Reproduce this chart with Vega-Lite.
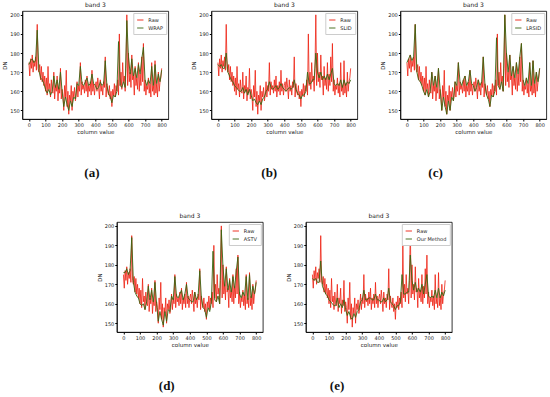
{
"$schema": "https://vega.github.io/schema/vega-lite/v6.json",
"background": "white",
"padding": {"left": 2, "top": 1, "right": 2, "bottom": 2},
"config": {
  "axis": {"labelFontSize": 5, "titleFontSize": 5.5, "titleFontWeight": "normal", "grid": false, "tickSize": 2, "labelPadding": 1, "titlePadding": 2, "domainColor": "#000", "tickColor": "#000", "labelColor": "#222", "titleColor": "#222", "labelFont": "DejaVu Sans", "titleFont": "DejaVu Sans", "domainWidth": 0.8, "labelOverlap": false, "labelFlush": false, "labelSeparation": 0},
  "title": {"fontSize": 6, "fontWeight": "normal", "font": "DejaVu Sans", "offset": 3, "color": "#222"},
  "view": {"stroke": "#000", "strokeWidth": 0.8},
  "legend": {"orient": "top-right", "title": null, "symbolType": "stroke", "symbolSize": 40, "symbolStrokeWidth": 1, "labelFontSize": 5, "labelFont": "DejaVu Sans", "fillColor": "white", "strokeColor": "#ccc", "padding": 3, "rowPadding": 1, "offset": 2, "labelColor": "#222"}
},
"datasets": {
  "raw": [
    {"x":0,"v":175},{"x":5,"v":168},{"x":10,"v":177},{"x":15,"v":172},{"x":20,"v":179},{"x":25,"v":170},{"x":30,"v":176},{"x":35,"v":173},{"x":40,"v":178},{"x":45,"v":171},
    {"x":50,"v":195},{"x":55,"v":172},{"x":60,"v":170},{"x":65,"v":174},{"x":70,"v":166},{"x":75,"v":173},{"x":80,"v":165},{"x":85,"v":170},{"x":90,"v":163},{"x":95,"v":168},
    {"x":100,"v":160},{"x":105,"v":167},{"x":110,"v":158},{"x":115,"v":173},{"x":120,"v":161},{"x":125,"v":164},{"x":130,"v":157},{"x":135,"v":166},{"x":140,"v":160},{"x":145,"v":159},
    {"x":150,"v":170},{"x":155,"v":156},{"x":160,"v":163},{"x":165,"v":160},{"x":170,"v":168},{"x":175,"v":155},{"x":180,"v":162},{"x":185,"v":159},{"x":190,"v":172},{"x":195,"v":156},
    {"x":200,"v":161},{"x":205,"v":158},{"x":210,"v":150},{"x":215,"v":163},{"x":220,"v":157},{"x":225,"v":171},{"x":230,"v":152},{"x":235,"v":160},{"x":240,"v":148},{"x":245,"v":158},
    {"x":250,"v":155},{"x":255,"v":163},{"x":260,"v":150},{"x":265,"v":160},{"x":270,"v":157},{"x":275,"v":162},{"x":280,"v":155},{"x":285,"v":158},{"x":290,"v":165},{"x":295,"v":157},
    {"x":300,"v":163},{"x":305,"v":160},{"x":310,"v":175},{"x":315,"v":158},{"x":320,"v":165},{"x":325,"v":161},{"x":330,"v":163},{"x":335,"v":159},{"x":340,"v":166},{"x":345,"v":160},
    {"x":350,"v":168},{"x":355,"v":157},{"x":360,"v":163},{"x":365,"v":160},{"x":370,"v":165},{"x":375,"v":158},{"x":380,"v":171},{"x":385,"v":160},{"x":390,"v":164},{"x":395,"v":158},
    {"x":400,"v":163},{"x":405,"v":165},{"x":410,"v":160},{"x":415,"v":167},{"x":420,"v":162},{"x":425,"v":156},{"x":430,"v":166},{"x":435,"v":160},{"x":440,"v":163},{"x":445,"v":158},
    {"x":450,"v":165},{"x":455,"v":162},{"x":460,"v":178},{"x":465,"v":157},{"x":470,"v":164},{"x":475,"v":160},{"x":480,"v":158},{"x":485,"v":163},{"x":490,"v":156},{"x":495,"v":160},
    {"x":500,"v":152},{"x":505,"v":161},{"x":510,"v":158},{"x":515,"v":164},{"x":520,"v":157},{"x":525,"v":163},{"x":530,"v":160},{"x":535,"v":166},{"x":540,"v":158},{"x":545,"v":190},
    {"x":550,"v":163},{"x":555,"v":170},{"x":560,"v":161},{"x":565,"v":175},{"x":570,"v":165},{"x":575,"v":168},{"x":580,"v":160},{"x":585,"v":172},{"x":590,"v":200},{"x":595,"v":163},
    {"x":600,"v":180},{"x":605,"v":165},{"x":610,"v":170},{"x":615,"v":162},{"x":620,"v":179},{"x":625,"v":166},{"x":630,"v":168},{"x":635,"v":158},{"x":640,"v":173},{"x":645,"v":163},
    {"x":650,"v":167},{"x":655,"v":161},{"x":660,"v":175},{"x":665,"v":160},{"x":670,"v":169},{"x":675,"v":163},{"x":680,"v":178},{"x":685,"v":165},{"x":690,"v":185},{"x":695,"v":160},
    {"x":700,"v":166},{"x":705,"v":158},{"x":710,"v":163},{"x":715,"v":161},{"x":720,"v":167},{"x":725,"v":159},{"x":730,"v":164},{"x":735,"v":157},{"x":740,"v":175},{"x":745,"v":160},
    {"x":750,"v":163},{"x":755,"v":158},{"x":760,"v":176},{"x":765,"v":159},{"x":770,"v":164},{"x":775,"v":157},{"x":780,"v":170},{"x":785,"v":160},{"x":790,"v":165},{"x":795,"v":167},
    {"x":800,"v":172}
  ],
  "meth": [
    {"m":"WRAP","x":0,"v":174},{"m":"WRAP","x":10,"v":176},{"m":"WRAP","x":20,"v":177},{"m":"WRAP","x":30,"v":175},{"m":"WRAP","x":40,"v":176},{"m":"WRAP","x":50,"v":192},{"m":"WRAP","x":60,"v":171},{"m":"WRAP","x":70,"v":167},{"m":"WRAP","x":80,"v":166},{"m":"WRAP","x":90,"v":164},
    {"m":"WRAP","x":100,"v":161},{"m":"WRAP","x":110,"v":159},{"m":"WRAP","x":120,"v":161},{"m":"WRAP","x":130,"v":158},{"m":"WRAP","x":140,"v":160},{"m":"WRAP","x":150,"v":168},{"m":"WRAP","x":160,"v":162},{"m":"WRAP","x":170,"v":166},{"m":"WRAP","x":180,"v":161},{"m":"WRAP","x":190,"v":170},
    {"m":"WRAP","x":200,"v":160},{"m":"WRAP","x":210,"v":152},{"m":"WRAP","x":220,"v":157},{"m":"WRAP","x":230,"v":153},{"m":"WRAP","x":240,"v":150},{"m":"WRAP","x":250,"v":155},{"m":"WRAP","x":260,"v":152},{"m":"WRAP","x":270,"v":157},{"m":"WRAP","x":280,"v":156},{"m":"WRAP","x":290,"v":164},
    {"m":"WRAP","x":300,"v":163},{"m":"WRAP","x":310,"v":173},{"m":"WRAP","x":320,"v":164},{"m":"WRAP","x":330,"v":163},{"m":"WRAP","x":340,"v":165},{"m":"WRAP","x":350,"v":167},{"m":"WRAP","x":360,"v":163},{"m":"WRAP","x":370,"v":164},{"m":"WRAP","x":380,"v":169},{"m":"WRAP","x":390,"v":164},
    {"m":"WRAP","x":400,"v":163},{"m":"WRAP","x":410,"v":161},{"m":"WRAP","x":420,"v":162},{"m":"WRAP","x":430,"v":165},{"m":"WRAP","x":440,"v":163},{"m":"WRAP","x":450,"v":164},{"m":"WRAP","x":460,"v":176},{"m":"WRAP","x":470,"v":163},{"m":"WRAP","x":480,"v":159},{"m":"WRAP","x":490,"v":157},
    {"m":"WRAP","x":500,"v":154},{"m":"WRAP","x":510,"v":158},{"m":"WRAP","x":520,"v":157},{"m":"WRAP","x":530,"v":160},{"m":"WRAP","x":540,"v":186},{"m":"WRAP","x":550,"v":163},{"m":"WRAP","x":560,"v":162},{"m":"WRAP","x":570,"v":165},{"m":"WRAP","x":580,"v":162},{"m":"WRAP","x":590,"v":197},
    {"m":"WRAP","x":600,"v":178},{"m":"WRAP","x":610,"v":169},{"m":"WRAP","x":620,"v":177},{"m":"WRAP","x":630,"v":168},{"m":"WRAP","x":640,"v":172},{"m":"WRAP","x":650,"v":167},{"m":"WRAP","x":660,"v":174},{"m":"WRAP","x":670,"v":169},{"m":"WRAP","x":680,"v":177},{"m":"WRAP","x":690,"v":183},
    {"m":"WRAP","x":700,"v":166},{"m":"WRAP","x":710,"v":163},{"m":"WRAP","x":720,"v":166},{"m":"WRAP","x":730,"v":164},{"m":"WRAP","x":740,"v":173},{"m":"WRAP","x":750,"v":163},{"m":"WRAP","x":760,"v":174},{"m":"WRAP","x":770,"v":164},{"m":"WRAP","x":780,"v":169},{"m":"WRAP","x":790,"v":165},
    {"m":"WRAP","x":800,"v":171},

    {"m":"SLID","x":0,"v":174},{"m":"SLID","x":10,"v":173},{"m":"SLID","x":20,"v":174},{"m":"SLID","x":30,"v":172},{"m":"SLID","x":40,"v":172},{"m":"SLID","x":50,"v":180},{"m":"SLID","x":60,"v":170},{"m":"SLID","x":70,"v":168},{"m":"SLID","x":80,"v":166},{"m":"SLID","x":90,"v":165},
    {"m":"SLID","x":100,"v":163},{"m":"SLID","x":110,"v":162},{"m":"SLID","x":120,"v":161},{"m":"SLID","x":130,"v":160},{"m":"SLID","x":140,"v":160},{"m":"SLID","x":150,"v":162},{"m":"SLID","x":160,"v":159},{"m":"SLID","x":170,"v":161},{"m":"SLID","x":180,"v":158},{"m":"SLID","x":190,"v":161},
    {"m":"SLID","x":200,"v":158},{"m":"SLID","x":210,"v":155},{"m":"SLID","x":220,"v":156},{"m":"SLID","x":230,"v":154},{"m":"SLID","x":240,"v":153},{"m":"SLID","x":250,"v":155},{"m":"SLID","x":260,"v":153},{"m":"SLID","x":270,"v":156},{"m":"SLID","x":280,"v":157},{"m":"SLID","x":290,"v":160},
    {"m":"SLID","x":300,"v":161},{"m":"SLID","x":310,"v":165},{"m":"SLID","x":320,"v":162},{"m":"SLID","x":330,"v":161},{"m":"SLID","x":340,"v":162},{"m":"SLID","x":350,"v":163},{"m":"SLID","x":360,"v":161},{"m":"SLID","x":370,"v":162},{"m":"SLID","x":380,"v":164},{"m":"SLID","x":390,"v":162},
    {"m":"SLID","x":400,"v":161},{"m":"SLID","x":410,"v":160},{"m":"SLID","x":420,"v":161},{"m":"SLID","x":430,"v":162},{"m":"SLID","x":440,"v":161},{"m":"SLID","x":450,"v":162},{"m":"SLID","x":460,"v":166},{"m":"SLID","x":470,"v":161},{"m":"SLID","x":480,"v":159},{"m":"SLID","x":490,"v":158},
    {"m":"SLID","x":500,"v":156},{"m":"SLID","x":510,"v":158},{"m":"SLID","x":520,"v":158},{"m":"SLID","x":530,"v":160},{"m":"SLID","x":540,"v":170},{"m":"SLID","x":550,"v":164},{"m":"SLID","x":560,"v":164},{"m":"SLID","x":570,"v":166},{"m":"SLID","x":580,"v":166},{"m":"SLID","x":590,"v":180},
    {"m":"SLID","x":600,"v":170},{"m":"SLID","x":610,"v":167},{"m":"SLID","x":620,"v":170},{"m":"SLID","x":630,"v":166},{"m":"SLID","x":640,"v":168},{"m":"SLID","x":650,"v":166},{"m":"SLID","x":660,"v":169},{"m":"SLID","x":670,"v":166},{"m":"SLID","x":680,"v":169},{"m":"SLID","x":690,"v":172},
    {"m":"SLID","x":700,"v":164},{"m":"SLID","x":710,"v":163},{"m":"SLID","x":720,"v":164},{"m":"SLID","x":730,"v":163},{"m":"SLID","x":740,"v":166},{"m":"SLID","x":750,"v":162},{"m":"SLID","x":760,"v":166},{"m":"SLID","x":770,"v":163},{"m":"SLID","x":780,"v":165},{"m":"SLID","x":790,"v":164},
    {"m":"SLID","x":800,"v":166},

    {"m":"LRSID","x":0,"v":175},{"m":"LRSID","x":10,"v":177},{"m":"LRSID","x":20,"v":179},{"m":"LRSID","x":30,"v":176},{"m":"LRSID","x":40,"v":178},{"m":"LRSID","x":50,"v":195},{"m":"LRSID","x":60,"v":170},{"m":"LRSID","x":70,"v":166},{"m":"LRSID","x":80,"v":165},{"m":"LRSID","x":90,"v":163},
    {"m":"LRSID","x":100,"v":160},{"m":"LRSID","x":110,"v":158},{"m":"LRSID","x":120,"v":161},{"m":"LRSID","x":130,"v":157},{"m":"LRSID","x":140,"v":160},{"m":"LRSID","x":150,"v":170},{"m":"LRSID","x":160,"v":163},{"m":"LRSID","x":170,"v":168},{"m":"LRSID","x":180,"v":162},{"m":"LRSID","x":190,"v":172},
    {"m":"LRSID","x":200,"v":161},{"m":"LRSID","x":210,"v":150},{"m":"LRSID","x":220,"v":157},{"m":"LRSID","x":230,"v":152},{"m":"LRSID","x":240,"v":148},{"m":"LRSID","x":250,"v":155},{"m":"LRSID","x":260,"v":150},{"m":"LRSID","x":270,"v":157},{"m":"LRSID","x":280,"v":155},{"m":"LRSID","x":290,"v":165},
    {"m":"LRSID","x":300,"v":163},{"m":"LRSID","x":310,"v":175},{"m":"LRSID","x":320,"v":165},{"m":"LRSID","x":330,"v":163},{"m":"LRSID","x":340,"v":166},{"m":"LRSID","x":350,"v":168},{"m":"LRSID","x":360,"v":163},{"m":"LRSID","x":370,"v":165},{"m":"LRSID","x":380,"v":171},{"m":"LRSID","x":390,"v":164},
    {"m":"LRSID","x":400,"v":163},{"m":"LRSID","x":410,"v":160},{"m":"LRSID","x":420,"v":162},{"m":"LRSID","x":430,"v":166},{"m":"LRSID","x":440,"v":163},{"m":"LRSID","x":450,"v":165},{"m":"LRSID","x":460,"v":178},{"m":"LRSID","x":470,"v":164},{"m":"LRSID","x":480,"v":158},{"m":"LRSID","x":490,"v":156},
    {"m":"LRSID","x":500,"v":152},{"m":"LRSID","x":510,"v":158},{"m":"LRSID","x":520,"v":157},{"m":"LRSID","x":530,"v":160},{"m":"LRSID","x":540,"v":188},{"m":"LRSID","x":550,"v":163},{"m":"LRSID","x":560,"v":161},{"m":"LRSID","x":570,"v":165},{"m":"LRSID","x":580,"v":160},{"m":"LRSID","x":590,"v":200},
    {"m":"LRSID","x":600,"v":180},{"m":"LRSID","x":610,"v":170},{"m":"LRSID","x":620,"v":179},{"m":"LRSID","x":630,"v":168},{"m":"LRSID","x":640,"v":173},{"m":"LRSID","x":650,"v":167},{"m":"LRSID","x":660,"v":175},{"m":"LRSID","x":670,"v":169},{"m":"LRSID","x":680,"v":178},{"m":"LRSID","x":690,"v":185},
    {"m":"LRSID","x":700,"v":166},{"m":"LRSID","x":710,"v":163},{"m":"LRSID","x":720,"v":167},{"m":"LRSID","x":730,"v":164},{"m":"LRSID","x":740,"v":175},{"m":"LRSID","x":750,"v":163},{"m":"LRSID","x":760,"v":176},{"m":"LRSID","x":770,"v":164},{"m":"LRSID","x":780,"v":170},{"m":"LRSID","x":790,"v":165},
    {"m":"LRSID","x":800,"v":172},

    {"m":"ASTV","x":0,"v":176},{"m":"ASTV","x":10,"v":176},{"m":"ASTV","x":20,"v":178},{"m":"ASTV","x":30,"v":175},{"m":"ASTV","x":40,"v":177},{"m":"ASTV","x":50,"v":194},{"m":"ASTV","x":60,"v":171},{"m":"ASTV","x":70,"v":166},{"m":"ASTV","x":80,"v":164},{"m":"ASTV","x":90,"v":163},
    {"m":"ASTV","x":100,"v":160},{"m":"ASTV","x":110,"v":159},{"m":"ASTV","x":120,"v":160},{"m":"ASTV","x":130,"v":157},{"m":"ASTV","x":140,"v":161},{"m":"ASTV","x":150,"v":169},{"m":"ASTV","x":160,"v":162},{"m":"ASTV","x":170,"v":167},{"m":"ASTV","x":180,"v":161},{"m":"ASTV","x":190,"v":171},
    {"m":"ASTV","x":200,"v":160},{"m":"ASTV","x":210,"v":151},{"m":"ASTV","x":220,"v":156},{"m":"ASTV","x":230,"v":152},{"m":"ASTV","x":240,"v":149},{"m":"ASTV","x":250,"v":156},{"m":"ASTV","x":260,"v":151},{"m":"ASTV","x":270,"v":157},{"m":"ASTV","x":280,"v":156},{"m":"ASTV","x":290,"v":164},
    {"m":"ASTV","x":300,"v":162},{"m":"ASTV","x":310,"v":174},{"m":"ASTV","x":320,"v":164},{"m":"ASTV","x":330,"v":163},{"m":"ASTV","x":340,"v":165},{"m":"ASTV","x":350,"v":167},{"m":"ASTV","x":360,"v":162},{"m":"ASTV","x":370,"v":165},{"m":"ASTV","x":380,"v":170},{"m":"ASTV","x":390,"v":163},
    {"m":"ASTV","x":400,"v":162},{"m":"ASTV","x":410,"v":161},{"m":"ASTV","x":420,"v":161},{"m":"ASTV","x":430,"v":166},{"m":"ASTV","x":440,"v":162},{"m":"ASTV","x":450,"v":164},{"m":"ASTV","x":460,"v":177},{"m":"ASTV","x":470,"v":163},{"m":"ASTV","x":480,"v":158},{"m":"ASTV","x":490,"v":157},
    {"m":"ASTV","x":500,"v":153},{"m":"ASTV","x":510,"v":158},{"m":"ASTV","x":520,"v":156},{"m":"ASTV","x":530,"v":161},{"m":"ASTV","x":540,"v":187},{"m":"ASTV","x":550,"v":162},{"m":"ASTV","x":560,"v":161},{"m":"ASTV","x":570,"v":164},{"m":"ASTV","x":580,"v":160},{"m":"ASTV","x":590,"v":198},
    {"m":"ASTV","x":600,"v":179},{"m":"ASTV","x":610,"v":169},{"m":"ASTV","x":620,"v":178},{"m":"ASTV","x":630,"v":167},{"m":"ASTV","x":640,"v":172},{"m":"ASTV","x":650,"v":166},{"m":"ASTV","x":660,"v":174},{"m":"ASTV","x":670,"v":168},{"m":"ASTV","x":680,"v":177},{"m":"ASTV","x":690,"v":184},
    {"m":"ASTV","x":700,"v":165},{"m":"ASTV","x":710,"v":163},{"m":"ASTV","x":720,"v":166},{"m":"ASTV","x":730,"v":164},{"m":"ASTV","x":740,"v":174},{"m":"ASTV","x":750,"v":162},{"m":"ASTV","x":760,"v":175},{"m":"ASTV","x":770,"v":163},{"m":"ASTV","x":780,"v":169},{"m":"ASTV","x":790,"v":165},
    {"m":"ASTV","x":800,"v":171},

    {"m":"Our Method","x":0,"v":173},{"m":"Our Method","x":10,"v":172},{"m":"Our Method","x":20,"v":173},{"m":"Our Method","x":30,"v":171},{"m":"Our Method","x":40,"v":171},{"m":"Our Method","x":50,"v":182},{"m":"Our Method","x":60,"v":169},{"m":"Our Method","x":70,"v":167},{"m":"Our Method","x":80,"v":165},{"m":"Our Method","x":90,"v":164},
    {"m":"Our Method","x":100,"v":162},{"m":"Our Method","x":110,"v":161},{"m":"Our Method","x":120,"v":160},{"m":"Our Method","x":130,"v":159},{"m":"Our Method","x":140,"v":159},{"m":"Our Method","x":150,"v":163},{"m":"Our Method","x":160,"v":158},{"m":"Our Method","x":170,"v":160},{"m":"Our Method","x":180,"v":158},{"m":"Our Method","x":190,"v":162},
    {"m":"Our Method","x":200,"v":157},{"m":"Our Method","x":210,"v":154},{"m":"Our Method","x":220,"v":156},{"m":"Our Method","x":230,"v":153},{"m":"Our Method","x":240,"v":152},{"m":"Our Method","x":250,"v":155},{"m":"Our Method","x":260,"v":153},{"m":"Our Method","x":270,"v":156},{"m":"Our Method","x":280,"v":157},{"m":"Our Method","x":290,"v":161},
    {"m":"Our Method","x":300,"v":162},{"m":"Our Method","x":310,"v":167},{"m":"Our Method","x":320,"v":162},{"m":"Our Method","x":330,"v":162},{"m":"Our Method","x":340,"v":163},{"m":"Our Method","x":350,"v":163},{"m":"Our Method","x":360,"v":162},{"m":"Our Method","x":370,"v":162},{"m":"Our Method","x":380,"v":165},{"m":"Our Method","x":390,"v":162},
    {"m":"Our Method","x":400,"v":162},{"m":"Our Method","x":410,"v":161},{"m":"Our Method","x":420,"v":161},{"m":"Our Method","x":430,"v":163},{"m":"Our Method","x":440,"v":161},{"m":"Our Method","x":450,"v":162},{"m":"Our Method","x":460,"v":168},{"m":"Our Method","x":470,"v":161},{"m":"Our Method","x":480,"v":160},{"m":"Our Method","x":490,"v":159},
    {"m":"Our Method","x":500,"v":157},{"m":"Our Method","x":510,"v":159},{"m":"Our Method","x":520,"v":159},{"m":"Our Method","x":530,"v":161},{"m":"Our Method","x":540,"v":175},{"m":"Our Method","x":550,"v":165},{"m":"Our Method","x":560,"v":165},{"m":"Our Method","x":570,"v":166},{"m":"Our Method","x":580,"v":166},{"m":"Our Method","x":590,"v":185},
    {"m":"Our Method","x":600,"v":172},{"m":"Our Method","x":610,"v":167},{"m":"Our Method","x":620,"v":171},{"m":"Our Method","x":630,"v":166},{"m":"Our Method","x":640,"v":168},{"m":"Our Method","x":650,"v":166},{"m":"Our Method","x":660,"v":170},{"m":"Our Method","x":670,"v":165},{"m":"Our Method","x":680,"v":170},{"m":"Our Method","x":690,"v":175},
    {"m":"Our Method","x":700,"v":164},{"m":"Our Method","x":710,"v":163},{"m":"Our Method","x":720,"v":164},{"m":"Our Method","x":730,"v":163},{"m":"Our Method","x":740,"v":167},{"m":"Our Method","x":750,"v":163},{"m":"Our Method","x":760,"v":168},{"m":"Our Method","x":770,"v":163},{"m":"Our Method","x":780,"v":166},{"m":"Our Method","x":790,"v":164},
    {"m":"Our Method","x":800,"v":167}
  ]
},
"center": true,
"spacing": 32,
"resolve": {"scale": {"color": "independent"}, "legend": {"color": "independent"}},
"vconcat": [
  {
    "spacing": 22,
    "resolve": {"scale": {"color": "independent"}, "legend": {"color": "independent"}},
    "hconcat": [
      {"title": {"text": "(a)", "orient": "bottom", "anchor": "start", "frame": "group", "font": "Liberation Serif", "fontSize": 13, "fontWeight": "bold", "offset": 32, "dx": 62, "color": "#111"},
       "resolve": {"scale": {"color": "independent"}, "legend": {"color": "independent"}},
       "hconcat": [{
        "width": 146, "height": 108, "title": "band 3",
        "layer": [
          {"data": {"name": "raw"}, "mark": {"type": "line", "strokeWidth": 0.8},
           "encoding": {"x": {"field": "x", "type": "quantitative", "scale": {"domain": [-40, 840], "nice": false}, "axis": {"tickCount": 9, "title": "column value", "labelOverlap": false}},
                        "y": {"field": "v", "type": "quantitative", "scale": {"domain": [145.5, 202], "nice": false, "zero": false}, "axis": {"tickCount": 6, "title": "DN", "labelOverlap": false}},
                        "color": {"datum": "Raw", "scale": {"domain": ["Raw", "WRAP"], "range": ["#ee2010", "#3a6612"]}, "legend": {"orient": "top-right", "title": null}}}},
          {"data": {"name": "meth"}, "transform": [{"filter": "datum.m === 'WRAP'"}], "mark": {"type": "line", "strokeWidth": 1, "opacity": 0.9},
           "encoding": {"x": {"field": "x", "type": "quantitative"}, "y": {"field": "v", "type": "quantitative"}, "color": {"datum": "WRAP"}}}
        ]}]},
      {"title": {"text": "(b)", "orient": "bottom", "anchor": "start", "frame": "group", "font": "Liberation Serif", "fontSize": 13, "fontWeight": "bold", "offset": 32, "dx": 50, "color": "#111"},
       "resolve": {"scale": {"color": "independent"}, "legend": {"color": "independent"}},
       "hconcat": [{
        "width": 146, "height": 108, "title": "band 3",
        "layer": [
          {"data": {"name": "raw"}, "mark": {"type": "line", "strokeWidth": 0.8},
           "encoding": {"x": {"field": "x", "type": "quantitative", "scale": {"domain": [-40, 840], "nice": false}, "axis": {"tickCount": 9, "title": "column value", "labelOverlap": false}},
                        "y": {"field": "v", "type": "quantitative", "scale": {"domain": [145.5, 202], "nice": false, "zero": false}, "axis": {"tickCount": 6, "title": "DN", "labelOverlap": false}},
                        "color": {"datum": "Raw", "scale": {"domain": ["Raw", "SLID"], "range": ["#ee2010", "#3a6612"]}, "legend": {"orient": "top-right", "title": null}}}},
          {"data": {"name": "meth"}, "transform": [{"filter": "datum.m === 'SLID'"}], "mark": {"type": "line", "strokeWidth": 1, "opacity": 0.9},
           "encoding": {"x": {"field": "x", "type": "quantitative"}, "y": {"field": "v", "type": "quantitative"}, "color": {"datum": "SLID"}}}
        ]}]},
      {"title": {"text": "(c)", "orient": "bottom", "anchor": "start", "frame": "group", "font": "Liberation Serif", "fontSize": 13, "fontWeight": "bold", "offset": 32, "dx": 28, "color": "#111"},
       "resolve": {"scale": {"color": "independent"}, "legend": {"color": "independent"}},
       "hconcat": [{
        "width": 146, "height": 108, "title": "band 3",
        "layer": [
          {"data": {"name": "raw"}, "mark": {"type": "line", "strokeWidth": 0.8},
           "encoding": {"x": {"field": "x", "type": "quantitative", "scale": {"domain": [-40, 840], "nice": false}, "axis": {"tickCount": 9, "title": "column value", "labelOverlap": false}},
                        "y": {"field": "v", "type": "quantitative", "scale": {"domain": [145.5, 202], "nice": false, "zero": false}, "axis": {"tickCount": 6, "title": "DN", "labelOverlap": false}},
                        "color": {"datum": "Raw", "scale": {"domain": ["Raw", "LRSID"], "range": ["#ee2010", "#3a6612"]}, "legend": {"orient": "top-right", "title": null}}}},
          {"data": {"name": "meth"}, "transform": [{"filter": "datum.m === 'LRSID'"}], "mark": {"type": "line", "strokeWidth": 1, "opacity": 0.9},
           "encoding": {"x": {"field": "x", "type": "quantitative"}, "y": {"field": "v", "type": "quantitative"}, "color": {"datum": "LRSID"}}}
        ]}]}
    ]
  },
  {
    "spacing": 22,
    "resolve": {"scale": {"color": "independent"}, "legend": {"color": "independent"}},
    "hconcat": [
      {"title": {"text": "(d)", "orient": "bottom", "anchor": "start", "frame": "group", "font": "Liberation Serif", "fontSize": 13, "fontWeight": "bold", "offset": 32, "dx": 42, "color": "#111"},
       "resolve": {"scale": {"color": "independent"}, "legend": {"color": "independent"}},
       "hconcat": [{
        "width": 146, "height": 110, "title": "band 3",
        "layer": [
          {"data": {"name": "raw"}, "mark": {"type": "line", "strokeWidth": 0.8},
           "encoding": {"x": {"field": "x", "type": "quantitative", "scale": {"domain": [-40, 840], "nice": false}, "axis": {"tickCount": 9, "title": "column value", "labelOverlap": false}},
                        "y": {"field": "v", "type": "quantitative", "scale": {"domain": [145.5, 202], "nice": false, "zero": false}, "axis": {"tickCount": 6, "title": "DN", "labelOverlap": false}},
                        "color": {"datum": "Raw", "scale": {"domain": ["Raw", "ASTV"], "range": ["#ee2010", "#3a6612"]}, "legend": {"orient": "top-right", "title": null}}}},
          {"data": {"name": "meth"}, "transform": [{"filter": "datum.m === 'ASTV'"}], "mark": {"type": "line", "strokeWidth": 1, "opacity": 0.9},
           "encoding": {"x": {"field": "x", "type": "quantitative"}, "y": {"field": "v", "type": "quantitative"}, "color": {"datum": "ASTV"}}}
        ]}]},
      {"title": {"text": "(e)", "orient": "bottom", "anchor": "start", "frame": "group", "font": "Liberation Serif", "fontSize": 13, "fontWeight": "bold", "offset": 32, "dx": 24, "color": "#111"},
       "resolve": {"scale": {"color": "independent"}, "legend": {"color": "independent"}},
       "hconcat": [{
        "width": 146, "height": 110, "title": "band 3",
        "layer": [
          {"data": {"name": "raw"}, "mark": {"type": "line", "strokeWidth": 0.8},
           "encoding": {"x": {"field": "x", "type": "quantitative", "scale": {"domain": [-40, 840], "nice": false}, "axis": {"tickCount": 9, "title": "column value", "labelOverlap": false}},
                        "y": {"field": "v", "type": "quantitative", "scale": {"domain": [145.5, 202], "nice": false, "zero": false}, "axis": {"tickCount": 6, "title": "DN", "labelOverlap": false}},
                        "color": {"datum": "Raw", "scale": {"domain": ["Raw", "Our Method"], "range": ["#ee2010", "#3a6612"]}, "legend": {"orient": "top-right", "title": null}}}},
          {"data": {"name": "meth"}, "transform": [{"filter": "datum.m === 'Our Method'"}], "mark": {"type": "line", "strokeWidth": 1, "opacity": 0.9},
           "encoding": {"x": {"field": "x", "type": "quantitative"}, "y": {"field": "v", "type": "quantitative"}, "color": {"datum": "Our Method"}}}
        ]}]}
    ]
  }
]
}
